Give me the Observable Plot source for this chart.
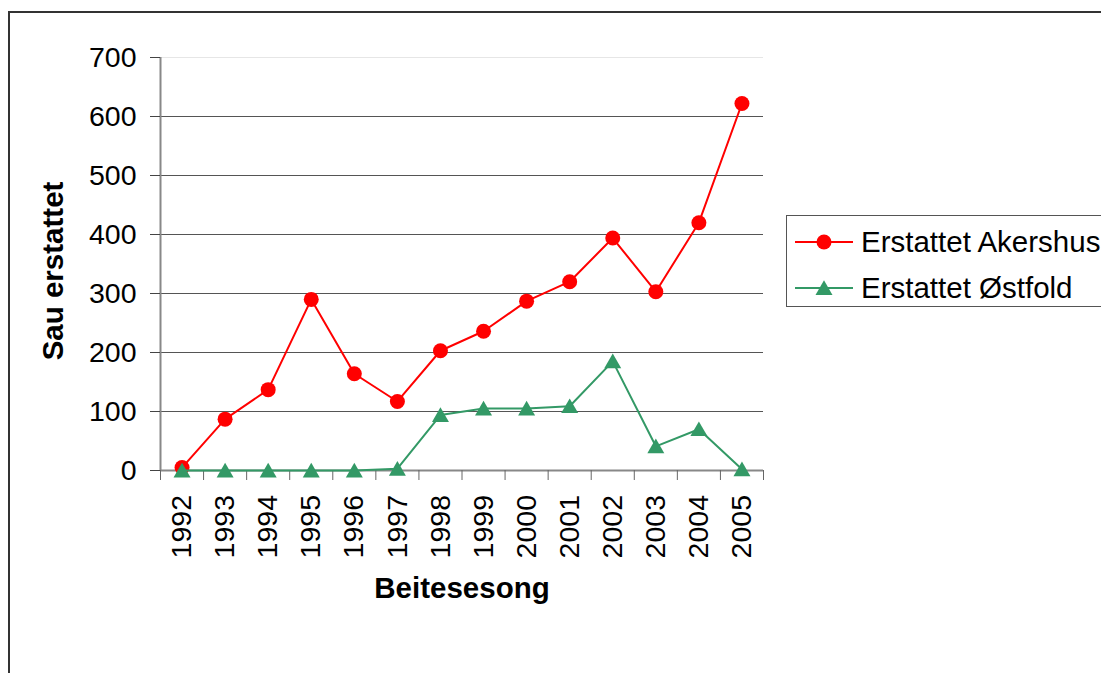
<!DOCTYPE html>
<html>
<head>
<meta charset="utf-8">
<script src="https://cdn.jsdelivr.net/npm/d3@7"></script>
<script src="https://cdn.jsdelivr.net/npm/@observablehq/plot@0.6"></script>
<style>
  html, body { margin: 0; padding: 0; background: #fff; overflow: hidden; }
  body { font-family: "Liberation Sans", Arial, sans-serif; }
  #wrap { position: relative; width: 1101px; height: 673px; }
  #frame { position: absolute; left: 8px; top: 11px; width: 1200px; height: 800px;
           border-left: 2px solid #333; border-top: 2px solid #333; box-sizing: border-box; pointer-events: none; }
  #legend { position: absolute; left: 786px; top: 215px; width: 340px; height: 92px;
            border: 1.5px solid #555; box-sizing: border-box; background: #fff; }
  .item { position: absolute; left: 8px; height: 40px; display: flex; align-items: center; }
  .item span { font-size: 29.5px; color: #000; margin-left: 8px; white-space: nowrap; }
</style>
</head>
<body>
<div id="wrap">
  <div id="chart"></div>
  <div id="frame"></div>
  <div id="legend"></div>
</div>
<script>
const years = [1992, 1993, 1994, 1995, 1996, 1997, 1998, 1999, 2000, 2001, 2002, 2003, 2004, 2005];
const akershus = [5, 87, 137, 290, 164, 117, 203, 236, 287, 320, 394, 303, 420, 622];
const ostfold = [0, 0, 0, 0, 0, 3, 94, 105, 105, 109, 185, 41, 70, 2];
const yTicks = [0, 100, 200, 300, 400, 500, 600, 700];
const seriesNames = ["Erstattet Akershus", "Erstattet Østfold"];
const colors = ["#FF0000", "#339966"];

const dataA = years.map((y, i) => ({year: y, value: akershus[i]}));
const dataO = years.map((y, i) => ({year: y, value: ostfold[i]}));
const boundaries = [years[0] - 0.5, ...years.map(y => y + 0.5)];

const chart = Plot.plot({
  width: 1101,
  height: 673,
  marginTop: 57,
  marginLeft: 160,
  marginRight: 338,
  marginBottom: 203,
  style: {fontFamily: "'Liberation Sans', Arial, sans-serif", background: "transparent"},
  x: {type: "linear", domain: [years[0] - 0.5, years[years.length - 1] + 0.5]},
  y: {domain: [0, 700]},
  marks: [
    Plot.ruleY(yTicks.filter(d => d > 0 && d < 700), {stroke: "#555", strokeWidth: 1}),
    Plot.ruleY([700], {stroke: "#e6e6e6", strokeWidth: 1}),
    Plot.ruleX([boundaries[0]], {stroke: "#888", strokeWidth: 2}),
    Plot.ruleY([0], {stroke: "#888", strokeWidth: 2}),
    Plot.axisY({ticks: yTicks, tickSize: 10, tickPadding: 14, fontSize: 28.5, stroke: "#444", label: null, tickFormat: d => String(d)}),
    Plot.axisX({ticks: boundaries, tickSize: 10, stroke: "#666", tickFormat: () => "", label: null}),
    Plot.axisX({ticks: years, tickSize: 0, tickPadding: 24.5, tickRotate: -90, fontSize: 28.5, tickFormat: d => String(d), label: null}),
    Plot.text(["Sau erstattet"], {frameAnchor: "left", textAnchor: "middle", lineAnchor: "middle", rotate: -90, dx: -107, dy: 7, fontSize: 29.5, fontWeight: "bold", fill: "#000"}),
    Plot.text(["Beitesesong"], {frameAnchor: "bottom", textAnchor: "middle", lineAnchor: "middle", dy: 118.5, fontSize: 29.5, fontWeight: "bold", fill: "#000"}),
    Plot.line(dataA, {x: "year", y: "value", stroke: colors[0], strokeWidth: 2}),
    Plot.dot(dataA, {x: "year", y: "value", r: 7.5, fill: colors[0], stroke: "none"}),
    Plot.line(dataO, {x: "year", y: "value", stroke: colors[1], strokeWidth: 2}),
    Plot.dot(dataO, {x: "year", y: "value", r: 6.3, symbol: "triangle", fill: colors[1], stroke: "none", dy: 2})
  ]
});
document.getElementById("chart").appendChild(chart);

// Legend
const legend = document.getElementById("legend");
seriesNames.forEach((name, i) => {
  const item = document.createElement("div");
  item.className = "item";
  item.style.top = (i === 0 ? 6 : 52) + "px";
  const ns = "http://www.w3.org/2000/svg";
  const svg = document.createElementNS(ns, "svg");
  svg.setAttribute("width", 58);
  svg.setAttribute("height", 24);
  const line = document.createElementNS(ns, "line");
  line.setAttribute("x1", 0); line.setAttribute("x2", 58);
  line.setAttribute("y1", 12); line.setAttribute("y2", 12);
  line.setAttribute("stroke", colors[i]); line.setAttribute("stroke-width", 2);
  svg.appendChild(line);
  if (i === 0) {
    const c = document.createElementNS(ns, "circle");
    c.setAttribute("cx", 29); c.setAttribute("cy", 12); c.setAttribute("r", 7.5);
    c.setAttribute("fill", colors[i]);
    svg.appendChild(c);
  } else {
    const p = document.createElementNS(ns, "path");
    p.setAttribute("d", d3.symbol(d3.symbolTriangle, 125)());
    p.setAttribute("transform", "translate(29,14)");
    p.setAttribute("fill", colors[i]);
    svg.appendChild(p);
  }
  item.appendChild(svg);
  const span = document.createElement("span");
  span.textContent = name;
  item.appendChild(span);
  legend.appendChild(item);
});
</script>
</body>
</html>
